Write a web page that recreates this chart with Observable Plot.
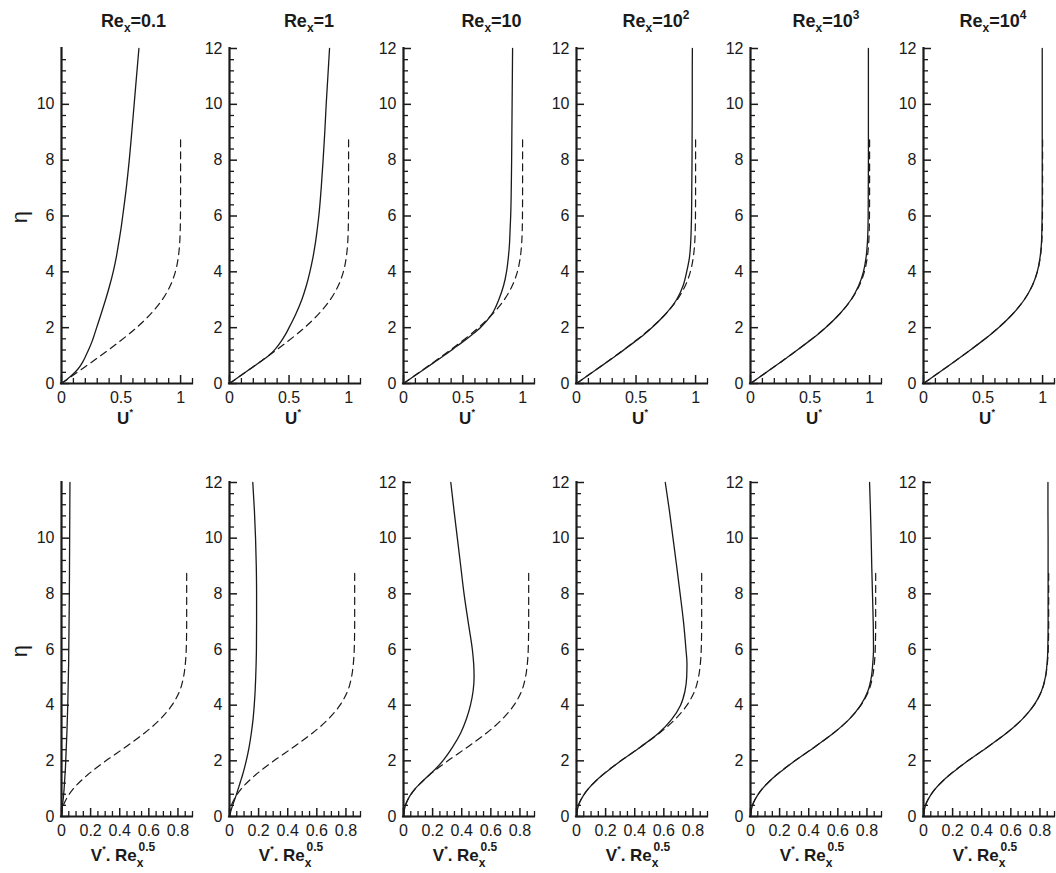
<!DOCTYPE html>
<html><head><meta charset="utf-8">
<script src="https://cdn.jsdelivr.net/npm/d3@7"></script>
<script src="https://cdn.jsdelivr.net/npm/@observablehq/plot@0.6"></script>
<style>
html,body{margin:0;padding:0;background:#fff;}
#wrap{position:relative;width:1056px;height:873px;overflow:hidden;font-family:"Liberation Sans",Arial,Helvetica,sans-serif;}
#wrap > svg{position:absolute;}
</style></head><body><div id="wrap"></div>
<script>
// ---- data ----
const reynoldsBase = ["0.1", "1", "10", "10", "10", "10"];
const reynoldsExp = ["", "", "", "2", "3", "4"];

// eta grid of the computed (solid) profiles
const etaSolid = [0, 0.25, 0.5, 0.75, 1, 1.25, 1.5, 1.75, 2, 2.5, 3, 3.5, 4, 4.5, 5, 5.5, 6, 7, 8, 9, 10, 11, 12];

// U* solid curves
const uRe01    = [0, 0.075, 0.135, 0.175, 0.205, 0.232, 0.256, 0.276, 0.295, 0.333, 0.37, 0.404, 0.434, 0.459, 0.479, 0.498, 0.514, 0.544, 0.569, 0.59, 0.61, 0.63, 0.65];
const uRe1     = [0, 0.083, 0.166, 0.25, 0.33, 0.388, 0.432, 0.469, 0.50, 0.558, 0.607, 0.645, 0.675, 0.70, 0.72, 0.736, 0.75, 0.77, 0.786, 0.80, 0.812, 0.826, 0.84];
const uRe10    = [0, 0.085, 0.17, 0.255, 0.34, 0.42, 0.50, 0.575, 0.645, 0.745, 0.80, 0.84, 0.865, 0.88, 0.89, 0.895, 0.90, 0.905, 0.908, 0.91, 0.912, 0.914, 0.916];
const uRe100   = [0, 0.083, 0.167, 0.25, 0.333, 0.412, 0.49, 0.565, 0.632, 0.75, 0.84, 0.895, 0.925, 0.948, 0.958, 0.963, 0.966, 0.968, 0.97, 0.971, 0.972, 0.972, 0.973];
const uRe1000  = [0, 0.083, 0.166, 0.249, 0.331, 0.41, 0.487, 0.562, 0.63, 0.75, 0.844, 0.908, 0.948, 0.97, 0.981, 0.986, 0.988, 0.989, 0.99, 0.99, 0.99, 0.99, 0.99];
const uRe10000 = [0, 0.083, 0.166, 0.249, 0.33, 0.409, 0.487, 0.561, 0.63, 0.751, 0.846, 0.913, 0.955, 0.978, 0.99, 0.994, 0.996, 0.997, 0.997, 0.997, 0.997, 0.997, 0.997];

// V*.Re^0.5 solid curves
const vRe01    = [0, 0.004, 0.009, 0.014, 0.018, 0.021, 0.024, 0.027, 0.029, 0.033, 0.037, 0.04, 0.043, 0.045, 0.047, 0.049, 0.05, 0.052, 0.054, 0.055, 0.056, 0.057, 0.058];
const vRe1     = [0, 0.012, 0.028, 0.045, 0.06, 0.075, 0.09, 0.103, 0.115, 0.135, 0.15, 0.162, 0.17, 0.176, 0.18, 0.183, 0.185, 0.186, 0.186, 0.184, 0.179, 0.171, 0.16];
const vRe10    = [0, 0.006, 0.02, 0.045, 0.08, 0.128, 0.178, 0.228, 0.27, 0.338, 0.393, 0.432, 0.46, 0.478, 0.485, 0.482, 0.473, 0.444, 0.416, 0.393, 0.37, 0.347, 0.325];
const vRe100   = [0, 0.006, 0.021, 0.047, 0.082, 0.127, 0.18, 0.241, 0.305, 0.44, 0.565, 0.655, 0.715, 0.745, 0.757, 0.759, 0.752, 0.735, 0.712, 0.688, 0.663, 0.638, 0.61];
const vRe1000  = [0, 0.006, 0.021, 0.047, 0.082, 0.127, 0.18, 0.241, 0.305, 0.441, 0.571, 0.679, 0.757, 0.806, 0.83, 0.84, 0.845, 0.843, 0.838, 0.833, 0.829, 0.824, 0.818];
const vRe10000 = [0, 0.006, 0.021, 0.047, 0.082, 0.127, 0.18, 0.241, 0.305, 0.441, 0.571, 0.679, 0.759, 0.81, 0.837, 0.849, 0.854, 0.856, 0.856, 0.856, 0.856, 0.855, 0.855];

// dashed reference (Blasius) profiles
const etaDashed = [0, 0.5, 1, 1.5, 2, 2.5, 3, 3.5, 4, 4.5, 5, 5.5, 6, 7, 8, 8.8];
const uDashed   = [0, 0.166, 0.330, 0.487, 0.630, 0.751, 0.846, 0.913, 0.956, 0.980, 0.992, 0.997, 0.999, 1, 1, 1];
const vDashed   = [0, 0.021, 0.082, 0.180, 0.305, 0.441, 0.571, 0.679, 0.759, 0.811, 0.838, 0.851, 0.857, 0.860, 0.860, 0.860];

// ticks
const yMajor = [0, 2, 4, 6, 8, 10, 12];
const xMajorU = [0, 0.5, 1];
const xMajorV = [0, 0.2, 0.4, 0.6, 0.8];

const uSolids = [uRe01, uRe1, uRe10, uRe100, uRe1000, uRe10000];
const vSolids = [vRe01, vRe1, vRe10, vRe100, vRe1000, vRe10000];

// ---- layout ----
const panelX0 = [61, 229, 403, 576, 750, 923];
const PW = 131, ML = 50, MR = 8, MT = 8, MB = 32;
const rows = [
  {top: 48, h: 335, domain: [0, 1.1], major: xMajorU, minorStep: 0.1, solids: uSolids, dashed: uDashed},
  {top: 482, h: 334, domain: [0, 0.9], major: xMajorV, minorStep: 0.05, solids: vSolids, dashed: vDashed}
];
const wrap = document.getElementById("wrap");
const ink = "#1a1a1a";

rows.forEach((row) => {
  const xMinor = d3.range(0, row.domain[1] + 1e-9, row.minorStep).map(v => +v.toFixed(3)).filter(v => !row.major.some(m => Math.abs(m - v) < 1e-6));
  panelX0.forEach((x0, i) => {
    const first = i === 0;
    const yMaj = first ? yMajor.filter(d => d !== 12) : yMajor;
    const yMinor = d3.range(0, 12, 0.4).map(v => +v.toFixed(2)).filter(v => Math.abs(v / 2 - Math.round(v / 2)) > 1e-6);
    const solid = etaSolid.map((eta, k) => ({eta, x: row.solids[i][k]}));
    const dashed = etaDashed.map((eta, k) => ({eta, x: row.dashed[k]}));
    const chart = Plot.plot({
      width: ML + PW + MR,
      height: MT + row.h + MB,
      marginLeft: ML, marginRight: MR, marginTop: MT, marginBottom: MB,
      x: {domain: row.domain, axis: null},
      y: {domain: [0, 12], axis: null},
      style: {background: "transparent", fontFamily: "'Liberation Sans', Arial, Helvetica, sans-serif", fontSize: "16px", color: ink, overflow: "visible"},
      marks: [
        Plot.axisY(yMinor, {tickSize: -5, tickPadding: 10, tickFormat: () => "", label: null, strokeWidth: 1.3}),
        Plot.axisY(yMaj, {tickSize: -8, tickPadding: 15, tickFormat: d => String(d), label: null, strokeWidth: 1.5}),
        Plot.axisX(xMinor, {tickSize: -5, tickPadding: 10, tickFormat: () => "", label: null, strokeWidth: 1.3}),
        Plot.axisX(row.major, {tickSize: -8, tickPadding: 16, tickFormat: d => String(d), label: null, strokeWidth: 1.5}),
        Plot.ruleX([0], {stroke: ink, strokeWidth: 2.2, strokeLinecap: "square"}),
        Plot.ruleY([0], {stroke: ink, strokeWidth: 2.2, strokeLinecap: "square"}),
        Plot.line(dashed, {x: "x", y: "eta", stroke: ink, strokeWidth: 1.2, strokeDasharray: "7,5", curve: "monotone-y"}),
        Plot.line(solid, {x: "x", y: "eta", stroke: ink, strokeWidth: 1.3, curve: "monotone-y"})
      ]
    });
    chart.style.left = (x0 - ML) + "px";
    chart.style.top = (row.top - MT) + "px";
    chart.style.maxWidth = "none";
    wrap.appendChild(chart);
  });
});

// ---- text overlay ----
const ov = d3.select(wrap).append("svg")
  .attr("width", 1056).attr("height", 873)
  .style("left", "0px").style("top", "0px")
  .style("pointer-events", "none")
  .attr("font-family", "'Liberation Sans', Arial, Helvetica, sans-serif")
  .attr("fill", ink);

const titleCx = [133.5, 309, 491.5, 656, 826, 993];
titleCx.forEach((cx, i) => {
  const t = ov.append("text").attr("x", cx).attr("y", 27).attr("text-anchor", "middle")
    .attr("font-weight", "bold").attr("font-size", 18);
  t.append("tspan").text("Re");
  t.append("tspan").attr("font-size", 12).attr("dy", 5).text("x");
  t.append("tspan").attr("dy", -5).text("=" + reynoldsBase[i]);
  if (reynoldsExp[i]) t.append("tspan").attr("font-size", 12).attr("dy", -8).text(reynoldsExp[i]);
});

panelX0.forEach((x0) => {
  const cx = x0 + PW / 2 - 1.5;
  const u = ov.append("text").attr("x", cx).attr("y", 424).attr("text-anchor", "middle")
    .attr("font-weight", "bold").attr("font-size", 17);
  u.append("tspan").text("U");
  u.append("tspan").attr("font-size", 9).attr("dy", -9).text("*");

  const v = ov.append("text").attr("x", cx - 2).attr("y", 861).attr("text-anchor", "middle")
    .attr("font-weight", "bold").attr("font-size", 17);
  v.append("tspan").text("V");
  v.append("tspan").attr("font-size", 9).attr("dy", -9).text("*");
  v.append("tspan").attr("dy", 9).text(". Re");
  v.append("tspan").attr("font-size", 12).attr("dy", 6).text("x");
  v.append("tspan").attr("font-size", 12).attr("dx", -5).attr("dy", -16).text("0.5");
});

[[19, 217], [19, 651]].forEach(([x, y]) => {
  ov.append("text").attr("transform", `translate(${x},${y}) rotate(-90)`)
    .attr("text-anchor", "middle").attr("dominant-baseline", "central")
    .attr("font-size", 22).text("η");
});
</script>
</body></html>
